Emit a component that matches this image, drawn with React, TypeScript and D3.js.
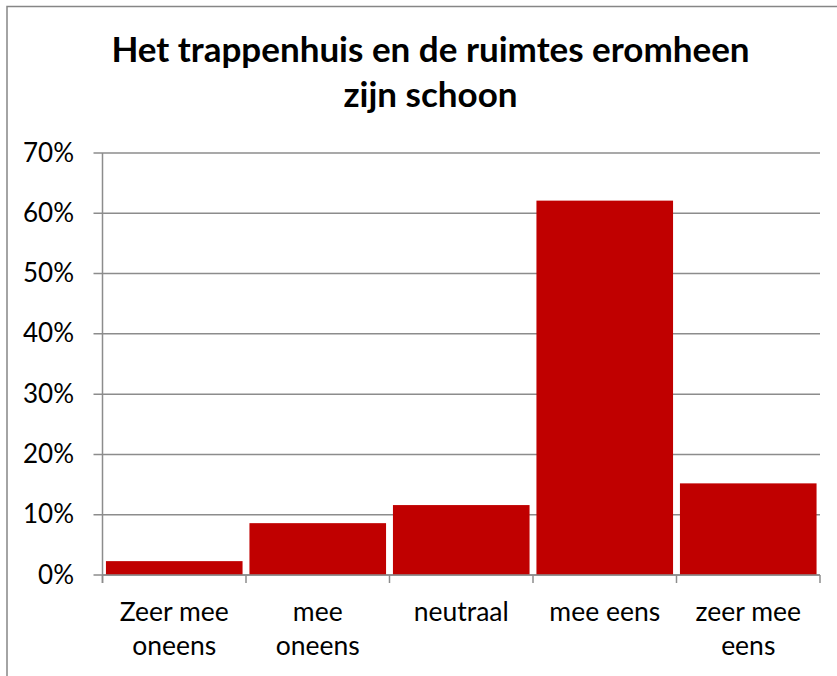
import React from "react";
import * as d3 from "d3";

const categories: string[][] = [
  ["Zeer mee", "oneens"],
  ["mee", "oneens"],
  ["neutraal"],
  ["mee eens"],
  ["zeer mee", "eens"],
];
const values: number[] = [0.023, 0.086, 0.116, 0.621, 0.152];
const yTicks: number[] = [0, 0.1, 0.2, 0.3, 0.4, 0.5, 0.6, 0.7];
const titleLines: string[] = ["Het trappenhuis en de ruimtes eromheen", "zijn schoon"];

const W = 837;
const H = 676;
const left = 102.5;
const right = 820;
const top = 153;
const bottom = 575;
const FONT = "Lato, 'Open Sans', sans-serif";

export default function App() {
  const keys = categories.map((_, i) => String(i));
  const x = d3.scaleBand<string>().domain(keys).range([left, right]).paddingInner(0.048).paddingOuter(0.024);
  const step = (right - left) / categories.length;
  const y = d3.scaleLinear().domain([0, 0.7]).range([bottom, top]);
  const fmt = d3.format(".0%");

  return (
    <svg width={W} height={H} style={{ position: "absolute", left: 0, top: 0 }}>
      <rect x={0} y={0} width={W} height={H} fill="#fff" />
      <path d={`M7,${H + 2} V6.5 H${W + 2}`} fill="none" stroke="#868686" strokeWidth={1.5} />
      <g fontFamily={FONT} fontWeight={700} fontSize={35} textAnchor="middle" fill="#000">
        {titleLines.map((t, i) => (
          <text key={i} x={430.5} y={62 + i * 45}>{t}</text>
        ))}
      </g>
      {yTicks.map((t) => (
        <line key={t} x1={left - 9} x2={right} y1={y(t)} y2={y(t)} stroke="#8c8c8c" strokeWidth={1.5} />
      ))}
      {values.map((v, i) => (
        <rect key={i} x={x(String(i))!} y={y(v)} width={x.bandwidth()} height={bottom - y(v)} fill="#C00000" />
      ))}
      <line x1={left} x2={left} y1={top} y2={bottom + 8} stroke="#8c8c8c" strokeWidth={1.5} />
      <line x1={left} x2={right} y1={bottom} y2={bottom} stroke="#8c8c8c" strokeWidth={1.5} />
      {d3.range(categories.length + 1).map((i) => (
        <line key={i} x1={left + i * step} x2={left + i * step} y1={bottom} y2={bottom + 8} stroke="#8c8c8c" strokeWidth={1.5} />
      ))}
      <g fontFamily={FONT} fontSize={26} fill="#000" textAnchor="end">
        {yTicks.map((t) => (
          <text key={t} x={74} y={y(t) + 8.5}>{fmt(t)}</text>
        ))}
      </g>
      <g fontFamily={FONT} fontSize={26.5} fill="#000" textAnchor="middle">
        {categories.map((lines, i) => (
          <text key={i} x={x(String(i))! + x.bandwidth() / 2} y={621}>
            {lines.map((l, j) => (
              <tspan key={j} x={x(String(i))! + x.bandwidth() / 2} y={621 + j * 34}>{l}</tspan>
            ))}
          </text>
        ))}
      </g>
    </svg>
  );
}
